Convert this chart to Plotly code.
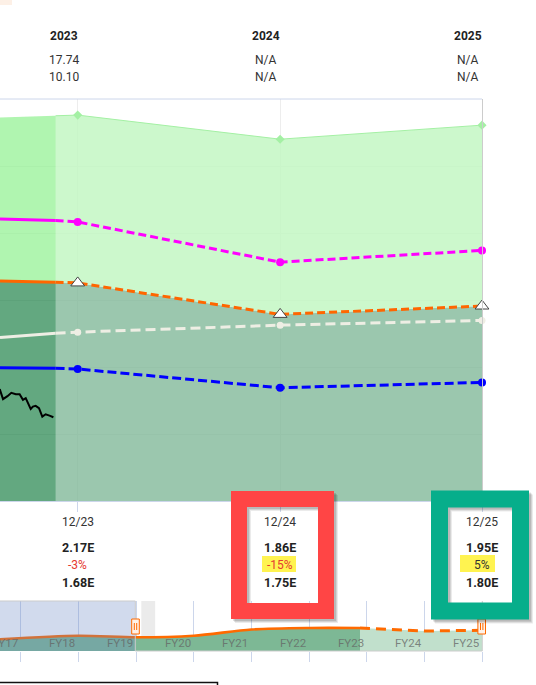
import plotly.graph_objects as go

W, H = 536, 685

# ---------------- data ----------------
year_ends = ["2023-12-31", "2024-12-31", "2025-12-31"]
hist_dates = ["2023-08-12 12:00", "2023-11-21"]      # left edge of view, last actual date

band_top_hist = [19.45]
band_top_fc = [19.52, 18.80, 19.22]
magenta_hist = [16.42, 16.37]
magenta_fc = [16.33, 15.13, 15.48]
orange_hist = [14.57, 14.53]
orange_fc = [14.51, 13.57, 13.82]
white_hist = [12.88, 13.01]
white_fc = [13.04, 13.25, 13.39]
blue_hist = [11.98, 11.96]
blue_fc = [11.94, 11.38, 11.54]

price_dates = ["2023-08-12", "2023-08-18", "2023-08-26", "2023-09-02", "2023-09-10",
               "2023-09-17", "2023-09-23", "2023-09-28", "2023-10-07", "2023-10-11",
               "2023-10-16", "2023-10-22", "2023-10-28", "2023-11-03", "2023-11-10",
               "2023-11-17"]
price_vals = [11.34, 11.04, 11.13, 11.23, 11.19, 11.19, 11.02, 11.07, 10.75, 10.82,
              10.84, 10.77, 10.52, 10.59, 10.55, 10.50]

header_years = ["2023", "2024", "2025"]
header_row1 = ["17.74", "N/A", "N/A"]
header_row2 = ["10.10", "N/A", "N/A"]

bottom_labels = ["12/23", "12/24", "12/25"]
est_high = ["2.17E", "1.86E", "1.95E"]
est_change = ["-3%", "-15%", "5%"]
est_low = ["1.68E", "1.75E", "1.80E"]

nav_years_hist = [2017.64, 2019.0, 2020.0, 2021.0, 2022.0, 2023.0, 2023.88]
nav_eps_hist = [5.85, 7.65, 6.85, 7.65, 10.75, 11.5, 11.5]
nav_years_fc = [2023.88, 2024.1, 2025.0, 2026.0]
nav_eps_fc = [11.5, 11.15, 10.0, 10.35]
nav_grid_years = [2018, 2019, 2020, 2021, 2022, 2023, 2024, 2025, 2026]
nav_fy_labels = ["FY17", "FY18", "FY19", "FY20", "FY21", "FY22", "FY23", "FY24", "FY25"]
nav_fy_pos = [2017.72, 2018.72, 2019.72, 2020.72, 2021.72, 2022.72, 2023.72, 2024.72, 2025.72]


def PX(x):
    return x / W


def PY(y):
    return 1 - y / H


FONT = "Roboto, Arial, sans-serif"
fig = go.Figure()

# ---- main chart fills ----
orange_x = hist_dates + year_ends
orange_y = orange_hist + orange_fc
fig.add_trace(go.Scatter(x=orange_x, y=orange_y, mode="lines", line=dict(width=0),
                         fill="tozeroy", fillcolor="rgba(55,144,92,0.78)",
                         hoverinfo="skip", showlegend=False))
band_x = hist_dates[:1] + year_ends
band_y = band_top_hist + band_top_fc
fig.add_trace(go.Scatter(x=band_x, y=band_y, mode="lines", line=dict(width=0),
                         fill="tonexty", fillcolor="rgba(156,243,156,0.8)",
                         hoverinfo="skip", showlegend=False))
# forecast veil
fig.add_trace(go.Scatter(x=[hist_dates[-1], year_ends[-1], year_ends[-1], hist_dates[-1], hist_dates[-1]],
                         y=[8, 8, 20, 20, 8], mode="lines", line=dict(width=0),
                         fill="toself", fillcolor="rgba(255,255,255,0.36)",
                         hoverinfo="skip", showlegend=False))
# band outline
fig.add_trace(go.Scatter(x=year_ends, y=band_top_fc, mode="lines+markers", cliponaxis=False,
                         line=dict(color="#a4f0a4", width=1),
                         marker=dict(symbol="diamond", size=7, color="#a4f0a4"),
                         hoverinfo="skip", showlegend=False))
fig.add_trace(go.Scatter(x=[hist_dates[-1], year_ends[0]], y=[19.50, band_top_fc[0]], mode="lines",
                         line=dict(color="#a4f0a4", width=1), hoverinfo="skip", showlegend=False))


def add_series(hist, fc, color, width, dash, msym, msize, mcolor, mline=None):
    fig.add_trace(go.Scatter(x=hist_dates, y=hist, mode="lines",
                             line=dict(color=color, width=width),
                             hoverinfo="skip", showlegend=False))
    fig.add_trace(go.Scatter(x=[hist_dates[-1]] + year_ends, y=[hist[-1]] + fc, mode="lines",
                             line=dict(color=color, width=width, dash=dash),
                             hoverinfo="skip", showlegend=False))
    mk = dict(symbol=msym, size=msize, color=mcolor)
    if mline:
        mk["line"] = mline
    fig.add_trace(go.Scatter(x=year_ends, y=fc, mode="markers", marker=mk, cliponaxis=False,
                             hoverinfo="skip", showlegend=False))


add_series(magenta_hist, magenta_fc, "#ff00ff", 3, "8px,4px", "circle", 8, "#ff00ff")
add_series(white_hist, white_fc, "#eeeee4", 3, "10px,5px", "circle", 7, "#eeeee4")
add_series(blue_hist, blue_fc, "#0000ff", 3, "9px,4px", "circle", 8, "#0000ff")
add_series(orange_hist, orange_fc, "#ff6600", 3, "8px,4px", "triangle-up", 12, "white",
           dict(color="#444444", width=1))

fig.add_trace(go.Scatter(x=price_dates, y=price_vals, mode="lines",
                         line=dict(color="#000000", width=2),
                         hoverinfo="skip", showlegend=False))

# ---- navigator ----
fig.add_trace(go.Scatter(x=nav_years_hist, y=nav_eps_hist, mode="lines", xaxis="x2", yaxis="y2",
                         line=dict(color="#ff6a00", width=2.6, shape="spline", smoothing=0.8),
                         fill="tozeroy", fillcolor="#7db895",
                         hoverinfo="skip", showlegend=False))
fig.add_trace(go.Scatter(x=nav_years_fc, y=nav_eps_fc, mode="lines", xaxis="x2", yaxis="y2",
                         line=dict(color="rgba(0,0,0,0)", width=0),
                         fill="tozeroy", fillcolor="#c1e0cc",
                         hoverinfo="skip", showlegend=False))
fig.add_trace(go.Scatter(x=nav_years_fc, y=nav_eps_fc, mode="lines", xaxis="x2", yaxis="y2",
                         line=dict(color="#ff6a00", width=3, dash="10px,6px"),
                         hoverinfo="skip", showlegend=False))

# ---- annotations ----
ann = []


def A(x, xref, y, text, size, color, xshift=0):
    ann.append(dict(x=x, xref=xref, y=PY(y), yref="paper", text=text, showarrow=False,
                    xanchor="center", yanchor="middle", xshift=xshift,
                    font=dict(family=FONT, size=size, color=color)))


for i, yr in enumerate(header_years):
    A(year_ends[i], "x", 36, "<b>%s</b>" % yr, 12, "#222", -14)
    A(year_ends[i], "x", 60, header_row1[i], 12, "#333", -14)
    A(year_ends[i], "x", 77, header_row2[i], 12, "#333", -14)

chg_colors = ["#e53a30", "#e53a30", "#333333"]
for i, lab in enumerate(bottom_labels):
    A(year_ends[i], "x", 522, lab, 12, "#333")
    A(year_ends[i], "x", 547, "<b>%s</b>" % est_high[i], 12.5, "#222")
    A(year_ends[i], "x", 564.5, est_change[i], 12, chg_colors[i])
    A(year_ends[i], "x", 582, "<b>%s</b>" % est_low[i], 12.5, "#222")

for lab, pos in zip(nav_fy_labels, nav_fy_pos):
    A(pos, "x2", 643, lab, 11.5, "rgba(100,100,100,0.75)")

# ---- shapes ----
shapes = []
# top-left tiny peach blob
shapes.append(dict(type="rect", xref="paper", yref="paper", x0=PX(0), x1=PX(12), y0=PY(0), y1=PY(5),
                   fillcolor="#fdf0e6", line=dict(width=0)))
# main plot top border and right border
shapes.append(dict(type="line", xref="paper", yref="paper", x0=0, x1=PX(482), y0=PY(99), y1=PY(99),
                   line=dict(color="#ccd6eb", width=1)))
shapes.append(dict(type="line", xref="paper", yref="paper", x0=PX(482.5), x1=PX(482.5), y0=PY(99), y1=PY(501),
                   line=dict(color="#cccccc", width=1)))
# navigator gray strip
shapes.append(dict(type="rect", xref="x2", yref="paper", x0=2020.09, x1=2020.33, y0=PY(651), y1=PY(601),
                   fillcolor="#ebebeb", line=dict(width=0), layer="below"))
# navigator mask
shapes.append(dict(type="rect", xref="x2", yref="paper", x0=2017.641, x1=2019.99, y0=PY(651), y1=PY(601),
                   fillcolor="rgba(102,133,194,0.3)", line=dict(width=0)))
# navigator outline
shapes.append(dict(type="path", xref="paper", yref="paper",
                   path="M %f,%f L %f,%f L %f,%f L %f,%f L %f,%f" % (
                       PX(0), PY(601), PX(135.3), PY(601), PX(135.3), PY(651),
                       PX(482.3), PY(651), PX(482.3), PY(601)),
                   line=dict(color="#cccccc", width=1)))
# handles
for hx in (135.5, 481.7):
    shapes.append(dict(type="rect", xref="paper", yref="paper", x0=PX(hx - 3.8), x1=PX(hx + 3.8),
                       y0=PY(634), y1=PY(619), fillcolor="#fff2e8", line=dict(color="#ff6a00", width=1)))
    for dx in (-1.2, 1.2):
        shapes.append(dict(type="line", xref="paper", yref="paper", x0=PX(hx + dx), x1=PX(hx + dx),
                           y0=PY(630), y1=PY(623), line=dict(color="#ff6a00", width=1)))
# bottom black frame
shapes.append(dict(type="rect", xref="paper", yref="paper", x0=PX(-5), x1=PX(217.5), y0=PY(700), y1=PY(682.5),
                   fillcolor="white", line=dict(color="#111111", width=1.5)))
# yellow highlights
shapes.append(dict(type="rect", xref="paper", yref="paper", x0=PX(262), x1=PX(296), y0=PY(572), y1=PY(556),
                   fillcolor="#fff350", line=dict(width=0)))
shapes.append(dict(type="rect", xref="paper", yref="paper", x0=PX(460), x1=PX(495), y0=PY(572), y1=PY(555),
                   fillcolor="#fff350", line=dict(width=0)))


def box(x0, x1, y0, y1, color, lw):
    for off, a in ((4, 0.08), (3, 0.10), (2, 0.12)):
        shapes.append(dict(type="rect", xref="paper", yref="paper",
                           x0=PX(x0 + off), x1=PX(x1 + off), y0=PY(y1 + off), y1=PY(y0 + off),
                           line=dict(color="rgba(0,0,0,%s)" % a, width=lw)))
    shapes.append(dict(type="rect", xref="paper", yref="paper", x0=PX(x0), x1=PX(x1), y0=PY(y1), y1=PY(y0),
                       line=dict(color=color, width=lw)))


box(239, 326, 499, 611, "#ff4545", 16)
box(439.5, 520.5, 499, 611, "#06ae8b", 17)

fig.update_layout(
    width=W, height=H, margin=dict(l=0, r=0, t=0, b=0),
    paper_bgcolor="white", plot_bgcolor="rgba(0,0,0,0)",
    showlegend=False, hovermode=False,
    annotations=ann, shapes=shapes,
    xaxis=dict(domain=[0, PX(482)], anchor="y", type="date",
               range=["2023-08-12 12:00", "2025-12-31"],
               tickvals=year_ends, showticklabels=False, ticks="outside", ticklen=10,
               tickcolor="#ccd6eb", showgrid=True, gridcolor="#e3e3e3", gridwidth=1,
               showline=True, linecolor="#ccd6eb", zeroline=False, fixedrange=True),
    yaxis=dict(domain=[PY(501), PY(99)], anchor="x", range=[8, 20], tick0=8, dtick=2,
               showticklabels=False, showgrid=True, gridcolor="#e3e3e3", zeroline=False,
               showline=False, ticks="", fixedrange=True),
    xaxis2=dict(domain=[0, PX(482.3)], anchor="y2", range=[2017.641, 2026.0],
                tickvals=nav_grid_years, showticklabels=False, ticks="outside", ticklen=10,
                tickcolor="#ccd6eb", showgrid=True, gridcolor="#ccd6eb", zeroline=False,
                showline=False, fixedrange=True),
    yaxis2=dict(domain=[PY(651), PY(601)], anchor="x2", range=[0, 25], visible=False,
                fixedrange=True),
)

fig.write_html("out.html", config={"displayModeBar": False},
               post_script="document.body.style.margin='0';document.body.style.overflow='hidden';")
